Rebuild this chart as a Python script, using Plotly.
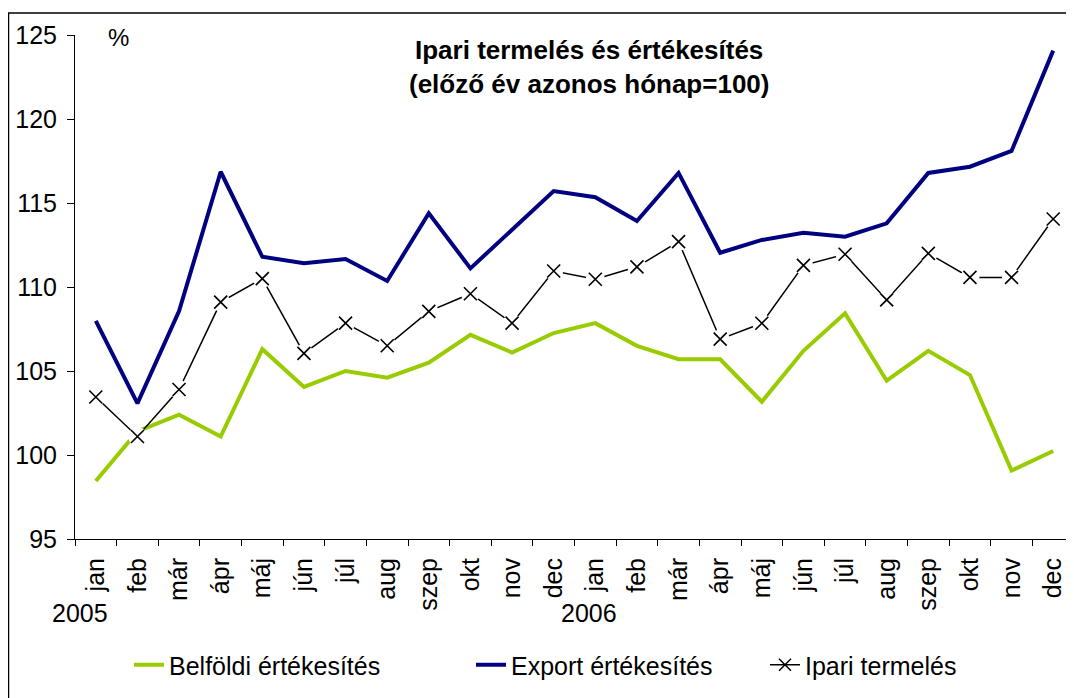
import plotly.graph_objects as go

months = ["jan", "feb", "már", "ápr", "máj", "jún", "júl", "aug", "szep", "okt", "nov", "dec",
          "jan", "feb", "már", "ápr", "máj", "jún", "júl", "aug", "szep", "okt", "nov", "dec"]
years = ["2005", "2006"]

belfoldi = [98.45, 101.4, 102.4, 101.1, 106.3, 104.05, 105.0, 104.6, 105.5, 107.15, 106.1, 107.26,
            107.85, 106.5, 105.7, 105.7, 103.17, 106.2, 108.43, 104.42, 106.2, 104.76, 99.07, 100.24]
export = [107.98, 103.07, 108.57, 116.86, 111.8, 111.41, 111.67, 110.36, 114.39, 111.11, 113.41, 115.71,
          115.34, 113.93, 116.79, 112.04, 112.8, 113.23, 112.99, 113.79, 116.79, 117.16, 118.1, 124.07]
ipari = [103.45, 101.1, 103.9, 109.1, 110.5, 106.05, 107.85, 106.5, 108.55, 109.6, 107.85, 110.95,
         110.46, 111.2, 112.7, 106.9, 107.84, 111.29, 111.95, 109.23, 112.0, 110.57, 110.57, 114.05]

x = list(range(len(months)))
FONT = "Liberation Sans, Arial, sans-serif"
GREEN = "#99CC00"
NAVY = "#000080"

# screen-space helpers (page has an 8px body margin)
L, T, PW, PH = 75, 35, 999, 504


def px(xs):
    return (xs - L) / PW


def py(ys):
    return (T + PH - ys) / PH


fig = go.Figure()
fig.add_trace(go.Scatter(x=x, y=belfoldi, mode="lines", name="Belföldi értékesítés",
                         line=dict(color=GREEN, width=4), legend="legend"))
fig.add_trace(go.Scatter(x=x, y=export, mode="lines", name="Export értékesítés",
                         line=dict(color=NAVY, width=4), legend="legend2"))
fig.add_trace(go.Scatter(x=x, y=ipari, mode="lines+markers", name="Ipari termelés",
                         line=dict(color="black", width=1.5),
                         marker=dict(symbol="x-thin", size=12, line=dict(color="black", width=1.5)),
                         legend="legend3"))
# white halo behind markers (gaps in lines around the crosses)
fig.add_trace(go.Scatter(x=x, y=ipari, mode="markers", showlegend=False, hoverinfo="skip",
                         marker=dict(symbol="circle", size=19, color="white", line=dict(width=0))))
fig.add_trace(go.Scatter(x=x, y=ipari, mode="markers", showlegend=False, hoverinfo="skip",
                         marker=dict(symbol="x-thin", size=13, line=dict(color="black", width=1.6))))

leg_y = py(665)
fig.update_layout(
    width=1066, height=690,
    margin=dict(l=67, r=0, t=27, b=159),
    paper_bgcolor="white", plot_bgcolor="white",
    font=dict(family=FONT, color="black", size=25),
    xaxis=dict(range=[-0.5, 23.5], tickmode="array", tickvals=x, ticktext=months,
               tickangle=-90, ticks="", showgrid=False, zeroline=False,
               showline=True, linecolor="black", linewidth=1,
               tickfont=dict(size=25), ticklabelstandoff=8,
               minor=dict(tickmode="array", tickvals=[i - 0.5 for i in range(25)],
                          ticks="outside", ticklen=6, tickcolor="black", tickwidth=1, showgrid=False)),
    yaxis=dict(range=[95, 125], tickmode="array", tickvals=[95, 100, 105, 110, 115, 120, 125],
               ticks="outside", ticklen=7, tickcolor="black", showgrid=False, zeroline=False,
               showline=True, linecolor="black", linewidth=1, tickfont=dict(size=25),
               ticklabelstandoff=5),
    yaxis2=dict(range=[95, 125], overlaying="y", anchor="x", side="left",
                tickmode="array", tickvals=[95, 100, 105, 110, 115, 120, 125],
                ticks="inside", ticklen=8, tickcolor="black", showticklabels=False,
                showgrid=False, zeroline=False, showline=False),
    legend=dict(orientation="h", x=px(129), xanchor="left", y=leg_y, yanchor="middle",
                font=dict(size=25), bgcolor="rgba(0,0,0,0)", itemwidth=30),
    legend2=dict(orientation="h", x=px(471), xanchor="left", y=leg_y, yanchor="middle",
                 font=dict(size=25), bgcolor="rgba(0,0,0,0)", itemwidth=30),
    legend3=dict(orientation="h", x=px(765), xanchor="left", y=leg_y, yanchor="middle",
                 font=dict(size=25), bgcolor="rgba(0,0,0,0)", itemwidth=30),
    showlegend=True,
)

# outer border
fig.add_shape(type="rect", xref="paper", yref="paper",
              x0=px(8.5), x1=px(1100), y0=py(13), y1=-0.6,
              line=dict(color="black", width=1.5), fillcolor="rgba(0,0,0,0)", layer="below")

# title
fig.add_annotation(text="<b>Ipari termelés és értékesítés</b>", xref="paper", yref="paper",
                   x=px(589), y=py(50), xanchor="center", yanchor="middle",
                   showarrow=False, font=dict(size=26))
fig.add_annotation(text="<b>(előző év azonos hónap=100)</b>", xref="paper", yref="paper",
                   x=px(589), y=py(84), xanchor="center", yanchor="middle",
                   showarrow=False, font=dict(size=26))
fig.add_annotation(text="%", xref="paper", yref="paper",
                   x=px(118), y=py(38), xanchor="center", yanchor="middle",
                   showarrow=False, font=dict(size=24))

# year labels
fig.add_annotation(text=years[0], xref="x", yref="paper", x=-0.38, y=py(613),
                   xanchor="center", yanchor="middle", showarrow=False, font=dict(size=25))
fig.add_annotation(text=years[1], xref="x", yref="paper", x=11.85, y=py(613),
                   xanchor="center", yanchor="middle", showarrow=False, font=dict(size=25))

fig.write_html("out.html")
